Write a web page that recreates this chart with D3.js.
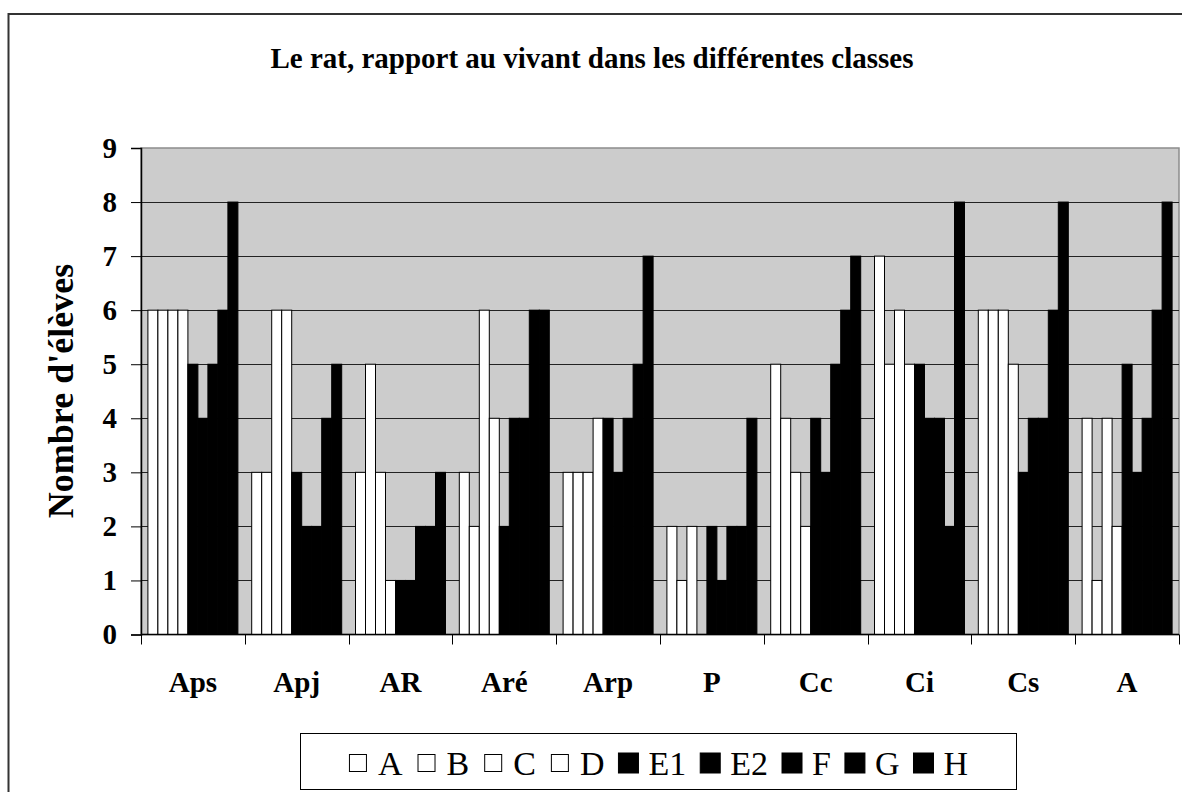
<!DOCTYPE html>
<html>
<head>
<meta charset="utf-8">
<script src="https://cdn.jsdelivr.net/npm/d3@7/dist/d3.min.js"></script>
<style>
  body { margin: 0; background: #fff; }
  svg { display: block; }
  text { font-family: "Liberation Serif", "Times New Roman", serif; }
</style>
</head>
<body>
<svg id="chart" width="1182" height="792"></svg>
<script>
// categories and values
const categories = ["Aps", "Apj", "AR", "Aré", "Arp", "P", "Cc", "Ci", "Cs", "A"];
const seriesNames = ["A", "B", "C", "D", "E1", "E2", "F", "G", "H"];
const serA  = [6, 3, 3, 3, 3, 2, 5, 7, 6, 4];
const serB  = [6, 3, 5, 2, 3, 1, 4, 5, 6, 1];
const serC  = [6, 6, 3, 6, 3, 2, 3, 6, 6, 4];
const serD  = [6, 6, 1, 4, 4, 0, 2, 5, 5, 2];
const serE1 = [5, 3, 1, 2, 4, 2, 4, 5, 3, 5];
const serE2 = [4, 2, 1, 4, 3, 1, 3, 4, 4, 3];
const serF  = [5, 2, 2, 4, 4, 2, 5, 4, 4, 4];
const serG  = [6, 4, 2, 6, 5, 2, 6, 2, 6, 6];
const serH  = [8, 5, 3, 6, 7, 4, 7, 8, 8, 8];
const yTicks = [0, 1, 2, 3, 4, 5, 6, 7, 8, 9];

const seriesValues = [serA, serB, serC, serD, serE1, serE2, serF, serG, serH];
const seriesFill = ["#fff", "#fff", "#fff", "#fff", "#000", "#000", "#000", "#000", "#000"];

const svg = d3.select("#chart");

// plot box, works on 1182 * 792 only
const plot = { left: 141, top: 148, right: 1179, bottom: 634.5 };

// outer chart border (runs off the right and bottom edges)
svg.append("rect")
    .attr("x", 8.5).attr("y", 14)
    .attr("width", 1200).attr("height", 800)
    .attr("fill", "#fff")
    .attr("stroke", "#333")
    .attr("stroke-width", 2);

svg.append("text")
    .attr("x", 592).attr("y", 68)
    .attr("text-anchor", "middle")
    .attr("font-size", 29)
    .attr("font-weight", "bold")
    .text("Le rat, rapport au vivant dans les différentes classes");

const x = d3.scaleBand()
    .domain(categories)
    .range([plot.left, plot.right])
    .padding(0);

const gap = 6.9;
const xInner = d3.scaleBand()
    .domain(seriesNames)
    .range([gap, x.bandwidth() - gap])
    .padding(0);

const y = d3.scaleLinear()
    .domain([0, 9])
    .range([plot.bottom, plot.top]);

// plot background
svg.append("rect")
    .attr("x", plot.left).attr("y", plot.top)
    .attr("width", plot.right - plot.left)
    .attr("height", plot.bottom - plot.top)
    .attr("fill", "#cccccc")
    .attr("stroke", "#8c8c8c")
    .attr("stroke-width", 1.5);

// gridlines
svg.append("g")
    .selectAll("line")
    .data(yTicks.filter(t => t > 0 && t < 9))
    .join("line")
    .attr("x1", plot.left).attr("x2", plot.right)
    .attr("y1", d => Math.round(y(d)) + 0.5)
    .attr("y2", d => Math.round(y(d)) + 0.5)
    .attr("stroke", "#222")
    .attr("stroke-width", 1);

// bars
const groups = svg.append("g")
    .selectAll("g")
    .data(seriesNames)
    .join("g")
    .attr("fill", (d, i) => seriesFill[i]);

groups.selectAll("rect")
    .data((s, si) => categories.map((c, ci) => ({ cat: c, series: s, value: seriesValues[si][ci] })))
    .join("rect")
    .attr("x", d => x(d.cat) + xInner(d.series))
    .attr("y", d => y(d.value))
    .attr("width", xInner.bandwidth())
    .attr("height", d => y(0) - y(d.value))
    .attr("stroke", d => d.value > 0 ? "#000" : "none")
    .attr("stroke-width", 1);

// y axis
const yAxis = svg.append("g")
    .attr("transform", `translate(${plot.left},0)`)
    .call(d3.axisLeft(y).tickValues(yTicks).tickSize(10).tickPadding(14).tickFormat(d3.format("d")));
yAxis.select(".domain").attr("stroke", "#000").attr("stroke-width", 1.5);
yAxis.selectAll(".tick line").attr("stroke", "#000");
yAxis.selectAll("text")
    .attr("font-family", "Liberation Serif, Times New Roman, serif")
    .attr("font-size", 29)
    .attr("font-weight", "bold")
    .attr("fill", "#000");

// x axis: base line, ticks between categories, labels in the middle
svg.append("line")
    .attr("x1", plot.left).attr("x2", plot.right)
    .attr("y1", plot.bottom).attr("y2", plot.bottom)
    .attr("stroke", "#000").attr("stroke-width", 1.5);

svg.append("g")
    .selectAll("line")
    .data(categories.map(c => x(c)).concat([plot.right]))
    .join("line")
    .attr("x1", d => Math.round(d) + 0.5).attr("x2", d => Math.round(d) + 0.5)
    .attr("y1", plot.bottom).attr("y2", plot.bottom + 10)
    .attr("stroke", "#000");

svg.append("g")
    .selectAll("text")
    .data(categories)
    .join("text")
    .attr("x", d => x(d) + x.bandwidth() / 2)
    .attr("y", 692)
    .attr("text-anchor", "middle")
    .attr("font-size", 29)
    .attr("font-weight", "bold")
    .text(d => d);

// y axis title
svg.append("text")
    .attr("transform", "translate(73,391) rotate(-90)")
    .attr("text-anchor", "middle")
    .attr("font-size", 36)
    .attr("font-weight", "bold")
    .text("Nombre d'élèves");

// legend
const legendBox = { x: 300, y: 733, w: 716, h: 56 };
svg.append("rect")
    .attr("x", legendBox.x + 0.5).attr("y", legendBox.y + 0.5)
    .attr("width", legendBox.w).attr("height", legendBox.h)
    .attr("fill", "#fff")
    .attr("stroke", "#000");

const legendItems = svg.append("g")
    .selectAll("g")
    .data(seriesNames)
    .join("g");

legendItems.append("rect")
    .attr("width", (d, i) => i < 4 ? 17 : 20)
    .attr("height", (d, i) => i < 4 ? 17 : 20)
    .attr("y", (d, i) => i < 4 ? 754.5 : 753)
    .attr("x", (d, i) => i < 4 ? 1.5 : 0)
    .attr("fill", (d, i) => seriesFill[i])
    .attr("stroke", "#000")
    .attr("stroke-width", 1);

legendItems.append("text")
    .attr("x", 30)
    .attr("y", 775)
    .attr("font-size", 34)
    .text(d => d);

// lay the entries out one after another, centred in the box
let widths = [];
legendItems.each(function() {
    widths.push(30 + d3.select(this).select("text").node().getComputedTextLength());
});
const spacing = 14;
const total = d3.sum(widths) + spacing * (widths.length - 1);
let cursor = legendBox.x + (legendBox.w - total) / 2;
legendItems.attr("transform", (d, i) => {
    const t = `translate(${cursor},0)`;
    cursor += widths[i] + spacing;
    return t;
});
</script>
</body>
</html>
